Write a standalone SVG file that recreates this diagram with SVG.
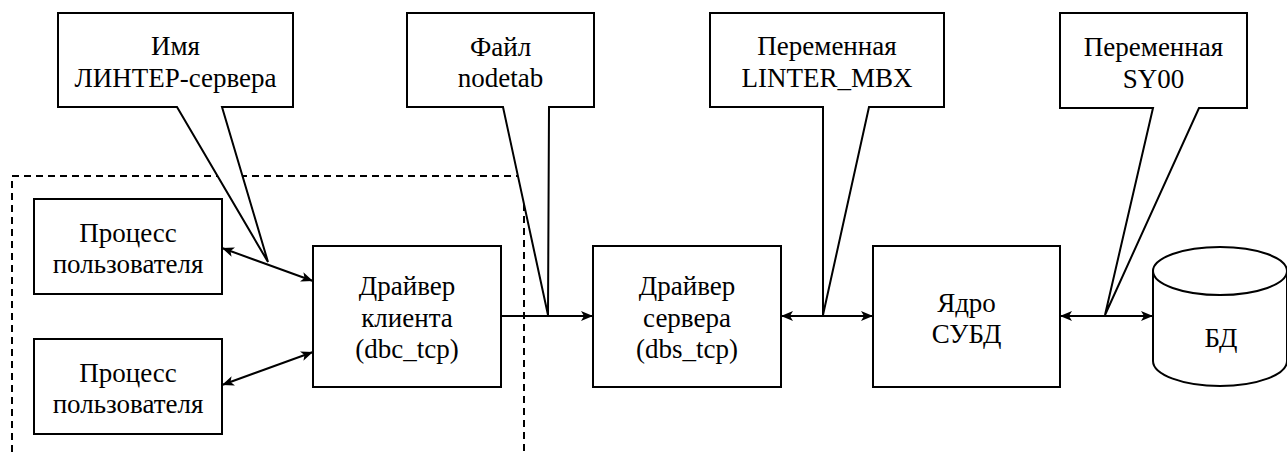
<svg xmlns="http://www.w3.org/2000/svg" width="1287" height="452" viewBox="0 0 1287 452">
<style>
.box{fill:#fff;stroke:#000;stroke-width:2}
.ln{fill:none;stroke:#000;stroke-width:2}
.dash{fill:none;stroke:#000;stroke-width:2;stroke-dasharray:7 5}
</style>
<defs>
<marker id="ah" markerUnits="userSpaceOnUse" markerWidth="14" markerHeight="12" refX="12" refY="5" orient="auto-start-reverse" viewBox="0 0 14 10">
<path d="M0,0 L12,5 L0,10 L3,5 Z" fill="#000"/>
</marker>
</defs>
<rect width="1287" height="452" fill="#fff"/>
<g id="boundary">
<path class="dash" d="M12,452 V176 H524 V452"/>
</g>
<g id="connectors">
<line class="ln" x1="222" y1="248" x2="313" y2="281" marker-start="url(#ah)" marker-end="url(#ah)"/>
<line class="ln" x1="222" y1="385" x2="313" y2="352" marker-start="url(#ah)" marker-end="url(#ah)"/>
<line class="ln" x1="501" y1="316" x2="593" y2="316" marker-end="url(#ah)"/>
<line class="ln" x1="781" y1="316" x2="873" y2="316" marker-start="url(#ah)" marker-end="url(#ah)"/>
<line class="ln" x1="1060" y1="316" x2="1153" y2="316" marker-start="url(#ah)" marker-end="url(#ah)"/>
</g>
<g id="callout-name">
<path class="box" d="M58,13 H293 V107 H222 L268,262 L177,107 H58 Z"/>
<text x="175.5" y="55" font-family="Liberation Serif" font-size="27" text-anchor="middle">Имя</text>
<text x="175.5" y="87" font-family="Liberation Serif" font-size="27" text-anchor="middle">ЛИНТЕР-сервера</text>
</g>
<g id="callout-nodetab">
<path class="box" d="M407,13 H594 V107 H549 L548,315 L503,107 H407 Z"/>
<text x="500.5" y="56" font-family="Liberation Serif" font-size="27" text-anchor="middle">Файл</text>
<text x="500.5" y="87" font-family="Liberation Serif" font-size="27" text-anchor="middle">nodetab</text>
</g>
<g id="callout-mbx">
<path class="box" d="M710,13 H944 V107 H869 L823,315 L823,107 H710 Z"/>
<text x="827" y="55" font-family="Liberation Serif" font-size="27" text-anchor="middle">Переменная</text>
<text x="827" y="87" font-family="Liberation Serif" font-size="27" text-anchor="middle">LINTER_MBX</text>
</g>
<g id="callout-sy00">
<path class="box" d="M1060,13 H1247 V108 H1199 L1105,315 L1153,108 H1060 Z"/>
<text x="1153.5" y="56" font-family="Liberation Serif" font-size="27" text-anchor="middle">Переменная</text>
<text x="1153.5" y="88" font-family="Liberation Serif" font-size="27" text-anchor="middle">SY00</text>
</g>
<g id="process1">
<rect class="box" x="34" y="199" width="188" height="95"/>
<text x="128" y="242" font-family="Liberation Serif" font-size="27" text-anchor="middle">Процесс</text>
<text x="128" y="273" font-family="Liberation Serif" font-size="27" text-anchor="middle">пользователя</text>
</g>
<g id="process2">
<rect class="box" x="34" y="339" width="188" height="95"/>
<text x="128" y="382" font-family="Liberation Serif" font-size="27" text-anchor="middle">Процесс</text>
<text x="128" y="413" font-family="Liberation Serif" font-size="27" text-anchor="middle">пользователя</text>
</g>
<g id="client-driver">
<rect class="box" x="313" y="246" width="188" height="141"/>
<text x="407" y="295" font-family="Liberation Serif" font-size="27" text-anchor="middle">Драйвер</text>
<text x="407" y="327" font-family="Liberation Serif" font-size="27" text-anchor="middle">клиента</text>
<text x="407" y="358" font-family="Liberation Serif" font-size="27" text-anchor="middle">(dbc_tcp)</text>
</g>
<g id="server-driver">
<rect class="box" x="593" y="246" width="188" height="141"/>
<text x="687" y="295" font-family="Liberation Serif" font-size="27" text-anchor="middle">Драйвер</text>
<text x="687" y="327" font-family="Liberation Serif" font-size="27" text-anchor="middle">сервера</text>
<text x="687" y="358" font-family="Liberation Serif" font-size="27" text-anchor="middle">(dbs_tcp)</text>
</g>
<g id="core">
<rect class="box" x="873" y="246" width="187" height="141"/>
<text x="966.5" y="312" font-family="Liberation Serif" font-size="27" text-anchor="middle">Ядро</text>
<text x="966.5" y="343" font-family="Liberation Serif" font-size="27" text-anchor="middle">СУБД</text>
</g>
<g id="db">
<path class="box" d="M1153,271 V361 A67,25 0 0 0 1287,361 V271 A67,24 0 0 0 1153,271 Z"/>
<path class="ln" d="M1153,271 A67,24 0 0 0 1287,271"/>
<text x="1221" y="347" font-family="Liberation Serif" font-size="27" text-anchor="middle">БД</text>
</g>
</svg>
